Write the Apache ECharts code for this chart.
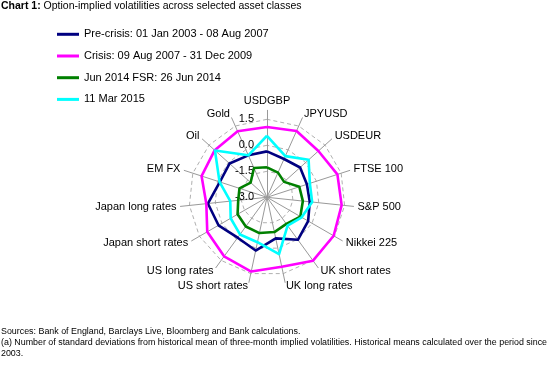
<!DOCTYPE html>
<html><head><meta charset="utf-8">
<script src="https://cdn.jsdelivr.net/npm/echarts@6/dist/echarts.min.js"></script>
<style>html,body{margin:0;padding:0;background:#fff}#c{width:550px;height:370px}</style>
</head><body><div id="c"></div>
<script>
// Categories in clockwise order starting at the top
const categories = ['USDGBP','JPYUSD','USDEUR','FTSE 100','S&P 500','Nikkei 225','UK short rates','UK long rates','US short rates','US long rates','Japan short rates','Japan long rates','EM FX','Oil','Gold'];
const seriesNames = ['Pre-crisis: 01 Jan 2003 - 08 Aug 2007','Crisis: 09 Aug 2007 - 31 Dec 2009','Jun 2014 FSR: 26 Jun 2014','11 Mar 2015'];
const preCrisis = [-0.35,-0.58,-0.43,-0.58,-0.52,-0.26,0.03,-0.58,0.14,-0.12,0.23,0.43,-0.14,-0.09,-0.35];
const crisis    = [1.06,1.19,0.99,1.27,1.33,1.44,1.52,1.10,1.38,1.21,0.98,0.52,0.97,1.06,1.17];
const jun2014   = [-1.27,-1.44,-1.67,-1.04,-0.92,-0.78,-1.10,-0.95,-0.89,-0.92,-1.04,-1.33,-1.33,-1.73,-1.15];
const mar2015   = [0.55,-0.40,0.23,-0.40,-0.38,-0.69,-0.98,0.35,-0.35,-0.35,-0.58,-0.87,-0.12,1.04,-0.35];
const axisTicks = [-3.0,-1.5,0.0,1.5];
const colors = ['#000080','#FF00FF','#008000','#00FFFF'];
const titleText = 'Option-implied volatilities across selected asset classes';
const footnotes = ['Sources: Bank of England, Barclays Live, Bloomberg and Bank calculations.',
  '(a) Number of standard deviations from historical mean of three-month implied volatilities. Historical means calculated over the period since',
  '2003.'];

const FONT = '"Liberation Sans", Arial, sans-serif';
const axMin = axisTicks[0], axMax = axisTicks[axisTicks.length-1];
const splitN = axisTicks.length - 1;
// ECharts radar runs counter-clockwise; reorder so the chart reads clockwise
function cw(arr){ return [arr[0]].concat(arr.slice(1).reverse()); }
const cats = cw(categories);
const indicatorsData = cats.map((n,i)=>({name:n, min:axMin, max:axMax, axisLabel:{show:i===0}}));
const indicatorsSpoke = cats.map(n=>({name:n, min:axMin, max:axMax}));
const allSeries = [preCrisis, crisis, jun2014, mar2015];

const chart = echarts.init(document.getElementById('c'), null, {renderer:'canvas'});
chart.setOption({
  animation:false,
  backgroundColor:'#fff',
  textStyle:{fontFamily:FONT},
  title:[
    {text:'{b|Chart 1:} ' + titleText, left:1, top:0, padding:0,
     textStyle:{fontFamily:FONT, fontSize:10.5, fontWeight:'normal', color:'#000', lineHeight:12,
       rich:{b:{fontFamily:FONT, fontSize:10.5, fontWeight:'bold', color:'#000', lineHeight:12}}}},
    {text:footnotes.join('\n'), left:1, top:326, padding:0,
     textStyle:{fontFamily:FONT, fontSize:8.9, fontWeight:'normal', color:'#000', lineHeight:11}}
  ],
  legend:{
    data:seriesNames, orient:'vertical', left:57, top:27.3, padding:0,
    itemWidth:22, itemHeight:3, itemGap:7.7, icon:'rect',
    textStyle:{fontFamily:FONT, fontSize:11, color:'#000', lineHeight:14}
  },
  radar:[
    { // data radar with dashed polygon gridlines and value labels
      center:[267,197.3], radius:78, shape:'polygon', splitNumber:splitN,
      indicator:indicatorsData,
      axisName:{show:false},
      axisLine:{show:false},
      axisTick:{show:false},
      splitArea:{show:false},
      splitLine:{lineStyle:{color:'#b0b0b0', width:1, type:[4,3]}},
      axisLabel:{show:false, color:'#000', fontSize:11, fontFamily:FONT, margin:13,
        formatter:v=>Number(v).toFixed(1)}
    },
    { // spokes and category names
      center:[267,197.3], radius:87, shape:'polygon', splitNumber:1,
      indicator:indicatorsSpoke, nameGap:4,
      axisName:{color:'#000', fontSize:11, fontFamily:FONT},
      axisLine:{lineStyle:{color:'#999', width:1}},
      axisTick:{show:false},
      axisLabel:{show:false},
      splitArea:{show:false},
      splitLine:{show:false}
    }
  ],
  series:[{
    type:'radar', radarIndex:0, symbol:'none', silent:true,
    data:allSeries.map((arr,i)=>({
      name:seriesNames[i], value:cw(arr),
      lineStyle:{color:colors[i], width:2.6},
      itemStyle:{color:colors[i]}
    }))
  }]
});
</script></body></html>
